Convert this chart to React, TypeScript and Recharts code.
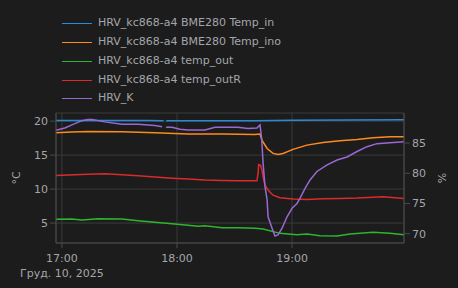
import { LineChart, Line, XAxis, YAxis, CartesianGrid } from "recharts";

// minutes after 17:00
const TIME_TICKS = [0, 60, 120];
const TIME_LABELS = ["17:00", "18:00", "19:00"];
const DATE_LABEL = "Груд. 10, 2025";

const TEMP_TICKS = [5, 10, 15, 20];
const HUM_TICKS = [70, 75, 80, 85];

// [minute, value]
const tempIn: [number, number | null][] = [
  [-3.1, 20.1], [20, 20.1], [45, 20.08], [53, 20.06], [53.6, null], [54.4, 20.06],
  [80, 20.05], [100, 20.05], [120, 20.15], [150, 20.18], [178.4, 20.22],
];

const tempIno: [number, number][] = [
  [-3.1, 18.28], [5, 18.4], [13.6, 18.48], [31.3, 18.43], [48.5, 18.28], [65.7, 18.09],
  [83.5, 18.09], [100.7, 18.04], [103.3, 18.09], [104.3, 17.2], [107, 15.98], [110.1, 15.25],
  [112.7, 15.1], [115.3, 15.25], [120.5, 15.84], [127.8, 16.47], [136.2, 16.86], [145, 17.1],
  [153.9, 17.3], [162.3, 17.55], [171.1, 17.7], [178.4, 17.72],
];

const tempOut: [number, number][] = [
  [-3.1, 5.54], [5.2, 5.59], [10.4, 5.44], [18.8, 5.64], [31.3, 5.59], [39.7, 5.34],
  [48.5, 5.1], [57.4, 4.9], [65.7, 4.66], [71, 4.51], [74.6, 4.6], [83.5, 4.3],
  [91.8, 4.3], [100.7, 4.22], [104.9, 4.12], [113.7, 3.48], [122.6, 3.28], [127.8, 3.38],
  [134.6, 3.13], [143.5, 3.09], [150.3, 3.38], [162.3, 3.63], [171.1, 3.48], [178.4, 3.28],
];

const tempOutR: [number, number][] = [
  [-3.1, 12.0], [13.6, 12.2], [22.4, 12.25], [31.3, 12.1], [39.7, 11.96], [48.5, 11.76],
  [57.4, 11.6], [65.7, 11.47], [74.6, 11.32], [83.5, 11.27], [91.8, 11.22], [101.7, 11.22],
  [102.3, 12.3], [102.6, 13.6], [103.6, 13.5], [104.3, 12.8], [104.9, 11.8], [105.9, 10.6],
  [107.5, 9.85], [110.1, 9.1], [113.7, 8.72], [120.5, 8.53], [127.8, 8.48], [136.2, 8.57],
  [145, 8.62], [153.9, 8.68], [167.5, 8.87], [178.4, 8.62],
];

const hrvK: [number, number | null][] = [
  [-3.1, 87.1], [1.5, 87.5], [5.2, 88.0], [10.4, 88.7], [13.6, 88.9], [15.7, 88.9],
  [22.4, 88.5], [31.3, 88.1], [39.7, 88.1], [48.5, 87.9], [52.2, 87.7], [53.5, null],
  [54.3, 87.6], [57.4, 87.6], [61.6, 87.3], [65.7, 87.15], [74.6, 87.15], [79.8, 87.6],
  [91.8, 87.6], [97, 87.4], [101.7, 87.5], [103.3, 88.0], [104.2, 85.6], [104.9, 81.7],
  [105.9, 77.8], [107, 75.6], [107.5, 72.8], [109.6, 70.9], [111.1, 69.6], [112.7, 69.8],
  [114.8, 70.9], [117.4, 72.8], [120, 74.2], [122.6, 75.0], [124.2, 75.9], [126.8, 77.5],
  [129.4, 78.9], [133, 80.3], [138.3, 81.4], [143.5, 82.2], [148.7, 82.7], [153.9, 83.6],
  [159.1, 84.4], [164.3, 84.9], [171.1, 85.05], [178.4, 85.2],
];

const SERIES = [
  { name: "HRV_kc868-a4 BME280 Temp_in", color: "#2a8ad8", axis: "temp", points: tempIn },
  { name: "HRV_kc868-a4 BME280 Temp_ino", color: "#ff8a1c", axis: "temp", points: tempIno },
  { name: "HRV_kc868-a4 temp_out", color: "#2eb52e", axis: "temp", points: tempOut },
  { name: "HRV_kc868-a4 temp_outR", color: "#d92b2b", axis: "temp", points: tempOutR },
  { name: "HRV_K", color: "#9a68d2", axis: "hum", points: hrvK },
];

const LEGEND_ROWS = [23, 42, 61, 80, 98];

const BG = "#1c1c1c";
const TEXT = "#a3a6ab";
const AXIS = "#4a4a4a";
const GRID = "#3a3a3a";
const FONT = "'DejaVu Sans', sans-serif";
const FS = 11;

function TimeTick(props: any) {
  const { x, y, payload } = props;
  const i = TIME_TICKS.indexOf(payload.value);
  return (
    <g transform={`translate(${x},${y})`}>
      <text textAnchor="middle" dy="0.71em" fill={TEXT} fontSize={FS} fontFamily={FONT}>
        {TIME_LABELS[i]}
      </text>
      {i === 0 && (
        <text y={15} textAnchor="middle" dy="0.71em" fill={TEXT} fontSize={FS} fontFamily={FONT}>
          {DATE_LABEL}
        </text>
      )}
    </g>
  );
}

function axisLabel(text: string, dx: number) {
  return (p: any) => {
    const vb = p.viewBox;
    const cx = vb.x + dx;
    const cy = vb.y + vb.height / 2;
    return (
      <text x={cx} y={cy} transform={`rotate(-90 ${cx} ${cy})`} textAnchor="middle" dominantBaseline="central" fill={TEXT} fontSize={FS} fontFamily={FONT}>
        {text}
      </text>
    );
  };
}

export default function App() {
  return (
    <div style={{ position: "relative", width: 458, height: 288, background: BG, fontFamily: FONT }}>
      <style>{"body{margin:0;background:#1c1c1c}"}</style>
      {SERIES.map((s, i) => (
        <div key={s.name}>
          <div style={{ position: "absolute", left: 62, top: LEGEND_ROWS[i], width: 30, height: 1, background: s.color }} />
          <div style={{ position: "absolute", left: 98, top: LEGEND_ROWS[i] - 8, height: 16, lineHeight: "16px", color: TEXT, fontSize: FS, whiteSpace: "nowrap" }}>
            {s.name}
          </div>
        </div>
      ))}
      <div style={{ position: "absolute", left: 0, top: 0 }}>
        <LineChart width={458} height={288} margin={{ top: 113, right: 10, bottom: 15, left: 10 }}>
          <CartesianGrid yAxisId="temp" stroke={GRID} strokeWidth={1} />
          <XAxis
            dataKey="t"
            type="number"
            domain={[-3.1, 178.4]}
            ticks={TIME_TICKS}
            allowDataOverflow
            height={30}
            stroke={AXIS}
            tickSize={5}
            tickMargin={6}
            tick={<TimeTick />}
          />
          <YAxis
            yAxisId="temp"
            type="number"
            domain={[2.06, 21.2]}
            ticks={TEMP_TICKS}
            allowDataOverflow
            width={46}
            stroke={AXIS}
            tickSize={6}
            tickMargin={2}
            tick={{ fill: TEXT, fontSize: FS, fontFamily: FONT }}
            label={{ content: axisLabel("°C", 6) }}
          />
          <YAxis
            yAxisId="hum"
            orientation="right"
            type="number"
            domain={[68.46, 89.97]}
            ticks={HUM_TICKS}
            allowDataOverflow
            width={44}
            stroke={AXIS}
            tickSize={6}
            tickMargin={2}
            tick={{ fill: TEXT, fontSize: FS, fontFamily: FONT }}
            label={{ content: axisLabel("%", 38) }}
          />
          {SERIES.map((s) => (
            <Line
              key={s.name}
              yAxisId={s.axis}
              data={s.points.map(([t, v]) => ({ t, v }))}
              dataKey="v"
              name={s.name}
              type="linear"
              stroke={s.color}
              strokeWidth={1.5}
              dot={false}
              connectNulls={false}
              isAnimationActive={false}
            />
          ))}
        </LineChart>
      </div>
    </div>
  );
}
